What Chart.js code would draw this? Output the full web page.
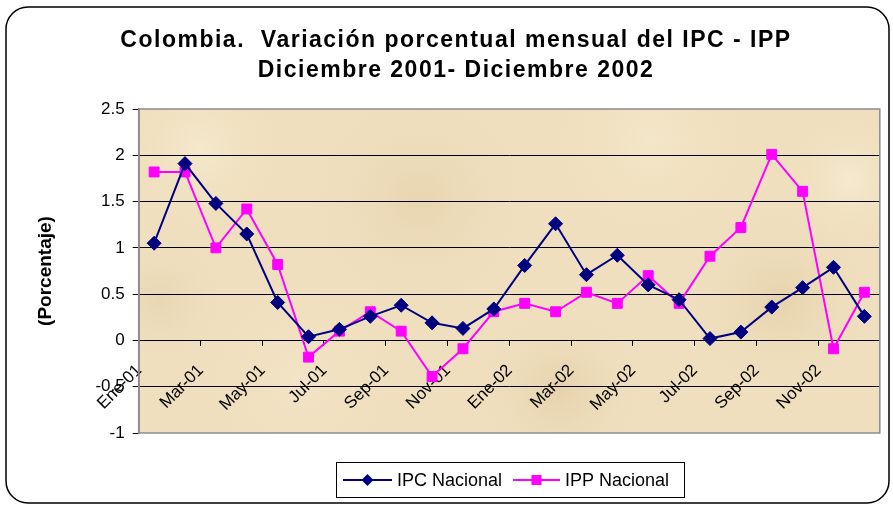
<!DOCTYPE html>
<html>
<head>
<meta charset="utf-8">
<script src="https://cdn.jsdelivr.net/npm/chart.js@4.4.1/dist/chart.umd.min.js"></script>
<style>
  html, body { margin: 0; padding: 0; background: #fff; }
  #wrap { width: 893px; height: 505px; }
</style>
</head>
<body>
<div id="wrap"><canvas id="chart" width="893" height="505"></canvas></div>
<script>
var months = ['Ene-01', 'Feb-01', 'Mar-01', 'Abr-01', 'May-01', 'Jun-01', 'Jul-01', 'Ago-01', 'Sep-01', 'Oct-01', 'Nov-01', 'Dic-01',
              'Ene-02', 'Feb-02', 'Mar-02', 'Abr-02', 'May-02', 'Jun-02', 'Jul-02', 'Ago-02', 'Sep-02', 'Oct-02', 'Nov-02', 'Dic-02'];
var ipcNacional = [1.05, 1.91, 1.48, 1.15, 0.41, 0.04, 0.12, 0.26, 0.38, 0.19, 0.13, 0.34,
                   0.81, 1.26, 0.71, 0.92, 0.60, 0.44, 0.02, 0.09, 0.36, 0.57, 0.79, 0.26];
var ippNacional = [1.82, 1.82, 1.00, 1.42, 0.82, -0.18, 0.10, 0.31, 0.10, -0.39, -0.09, 0.31,
                   0.40, 0.31, 0.52, 0.40, 0.70, 0.40, 0.91, 1.22, 2.01, 1.61, -0.09, 0.52];
var yTicks = [2.5, 2, 1.5, 1, 0.5, 0, -0.5, -1];
var titleLines = ['Colombia.  Variación porcentual mensual del IPC - IPP', 'Diciembre 2001- Diciembre 2002'];
var yTitle = '(Porcentaje)';

// background, outer frame, plot texture
var framePlugin = {
    id: 'frame',
    beforeDraw: function (chart) {
        var c = chart.ctx, a = chart.chartArea;
        c.save();
        c.fillStyle = '#fff';
        c.fillRect(0, 0, chart.width, chart.height);
        c.beginPath();
        c.roundRect(6, 7, 883, 496, 22);
        c.strokeStyle = '#000';
        c.lineWidth = 1.5;
        c.stroke();

        c.fillStyle = '#efdfbe';
        c.fillRect(a.left, a.top, a.right - a.left, a.bottom - a.top);
        var spots = [[200, 150, 90, '#f5e8cc'], [420, 200, 120, '#e8d5b1'], [650, 140, 110, '#f4e6c9'],
                     [780, 300, 100, '#e7d3ad'], [300, 380, 110, '#f3e4c7'], [560, 390, 90, '#e6d2ac'],
                     [160, 300, 70, '#e8d6b3'], [850, 180, 70, '#f5e9cf']];
        c.beginPath();
        c.rect(a.left, a.top, a.right - a.left, a.bottom - a.top);
        c.clip();
        spots.forEach(function (s) {
            var g = c.createRadialGradient(s[0], s[1], 0, s[0], s[1], s[2]);
            g.addColorStop(0, s[3]);
            g.addColorStop(1, 'rgba(239,223,190,0)');
            c.fillStyle = g;
            c.fillRect(s[0] - s[2], s[1] - s[2], s[2] * 2, s[2] * 2);
        });
        c.restore();
    },
    afterDraw: function (chart) {
        var c = chart.ctx, a = chart.chartArea;
        c.save();
        // plot border
        c.strokeStyle = '#8c8c8c';
        c.lineWidth = 1.5;
        c.strokeRect(a.left, a.top, a.right - a.left, a.bottom - a.top);

        // title
        c.fillStyle = '#000';
        c.font = 'bold 23px Arial, "Liberation Sans", sans-serif';
        c.letterSpacing = '1.5px';
        c.textAlign = 'center';
        c.textBaseline = 'middle';
        c.fillText(titleLines[0], 456, 41);
        c.fillText(titleLines[1], 456, 71);

        // legend
        c.letterSpacing = '0px';
        c.strokeStyle = '#000';
        c.lineWidth = 1;
        c.strokeRect(336.5, 462.5, 348, 35);
        var items = [
            { ds: chart.data.datasets[0], x: 343, w: 49 },
            { ds: chart.data.datasets[1], x: 513, w: 47 }
        ];
        c.font = '18px Arial, "Liberation Sans", sans-serif';
        c.textAlign = 'left';
        items.forEach(function (it) {
            var y = 480;
            var mx = it.x + it.w / 2;
            c.strokeStyle = it.ds.borderColor;
            c.lineWidth = 2;
            c.beginPath();
            c.moveTo(it.x, y);
            c.lineTo(it.x + it.w, y);
            c.stroke();
            c.fillStyle = it.ds.backgroundColor;
            c.beginPath();
            if (it.ds.pointStyle === 'rectRot') {
                c.moveTo(mx, y - 6);
                c.lineTo(mx + 6, y);
                c.lineTo(mx, y + 6);
                c.lineTo(mx - 6, y);
                c.closePath();
            } else {
                c.rect(mx - 5, y - 5, 10, 10);
            }
            c.fill();
            c.fillStyle = '#000';
            c.fillText(it.ds.label, it.x + it.w + 5, y + 1);
        });
        c.restore();
    }
};

var ctx = document.getElementById('chart');
var myChart = new Chart(ctx, {
    type: 'line',
    data: {
        labels: months,
        datasets: [{
            label: 'IPC Nacional',
            data: ipcNacional,
            borderColor: '#000080',
            backgroundColor: '#000080',
            borderWidth: 2,
            pointStyle: 'rectRot',
            pointRadius: 7,
            pointBorderWidth: 1,
            tension: 0
        },
        {
            label: 'IPP Nacional',
            data: ippNacional,
            borderColor: '#ff00ff',
            backgroundColor: '#ff00ff',
            borderWidth: 2,
            pointStyle: 'rect',
            pointRadius: 7,
            pointBorderWidth: 1,
            tension: 0
        }]
    },
    options: {
        responsive: false,
        animation: false,
        layout: { padding: { top: 109, bottom: 72, right: 9.5, left: 0 } },
        plugins: {
            legend: { display: false },
            title: { display: false },
            tooltip: { enabled: false }
        },
        scales: {
            x: {
                position: { y: 0 },
                offset: true,
                grid: {
                    offset: true,
                    drawOnChartArea: false,
                    drawTicks: true,
                    tickLength: 6,
                    tickColor: function (c) { return c.index % 2 === 0 ? '#000' : 'rgba(0,0,0,0)'; }
                },
                border: { display: false },
                ticks: {
                    autoSkip: false,
                    maxRotation: 45,
                    minRotation: 45,
                    labelOffset: -15,
                    padding: 14,
                    color: '#000',
                    font: { family: 'Arial, "Liberation Sans", sans-serif', size: 17 },
                    callback: function (v, i) { return i % 2 === 0 ? months[i] : ''; }
                }
            },
            y: {
                min: -1,
                max: 2.5,
                afterFit: function (scale) { scale.width = 138.7; },
                afterBuildTicks: function (scale) {
                    scale.ticks = yTicks.map(function (v) { return { value: v }; });
                },
                grid: {
                    color: function (c) {
                        var v = c.tick && c.tick.value;
                        return (v === 2.5 || v === -1) ? 'rgba(0,0,0,0)' : '#000';
                    },
                    tickColor: '#000',
                    tickLength: 6,
                    lineWidth: 1
                },
                border: { color: '#555', width: 1.5 },
                ticks: {
                    padding: 8,
                    color: '#000',
                    font: { family: 'Arial, "Liberation Sans", sans-serif', size: 17 },
                    callback: function (v) { return String(v); }
                },
                title: {
                    display: true,
                    text: yTitle,
                    color: '#000',
                    padding: { top: 34, bottom: 0 },
                    font: { family: 'Arial, "Liberation Sans", sans-serif', size: 19, weight: 'bold' }
                }
            }
        }
    },
    plugins: [framePlugin]
});
</script>
</body>
</html>
